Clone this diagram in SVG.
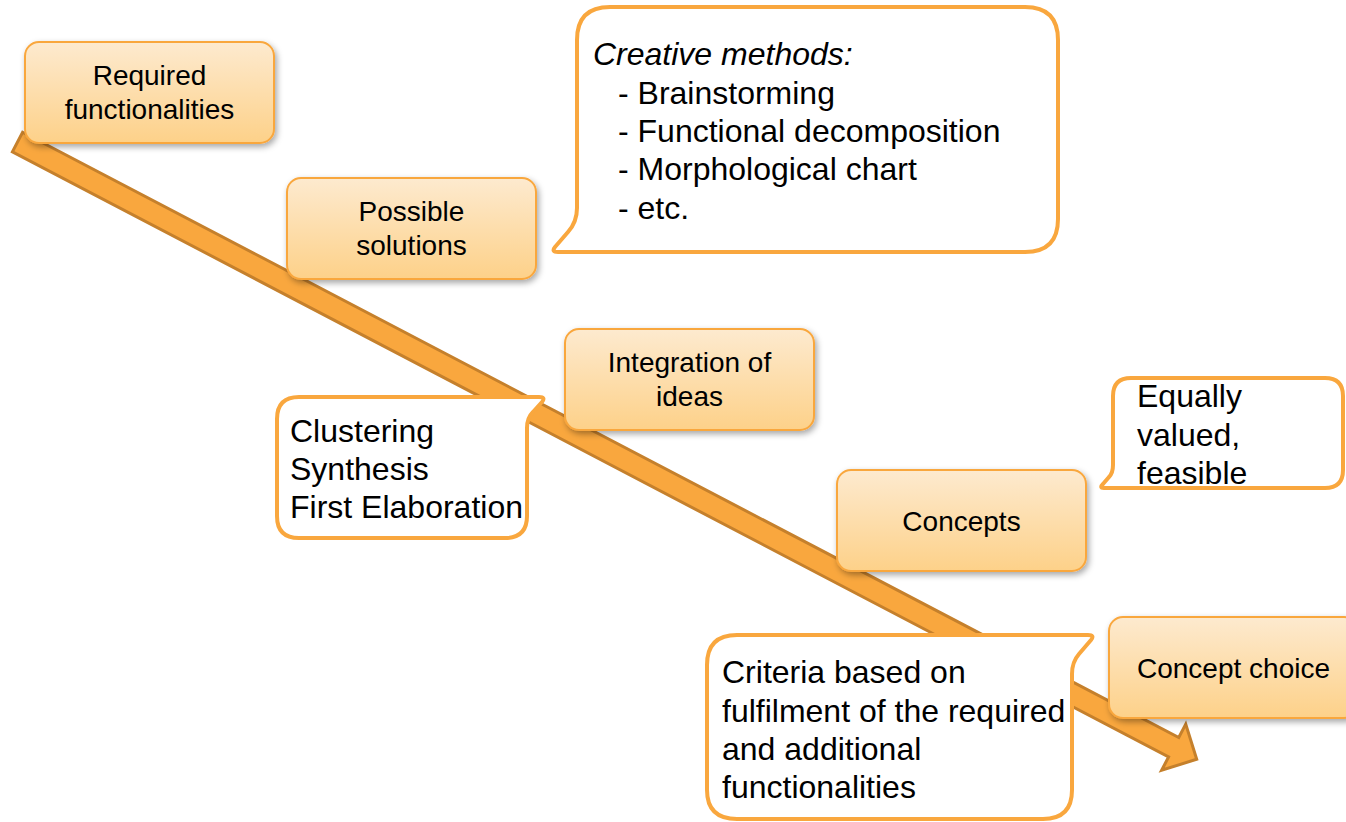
<svg xmlns="http://www.w3.org/2000/svg" width="1346" height="822" viewBox="0 0 1346 822">
<defs>
<linearGradient id="ng" x1="0" y1="0" x2="0" y2="1">
<stop offset="0" stop-color="#fdeacf"/>
<stop offset="1" stop-color="#fdd189"/>
</linearGradient>
<filter id="sh" x="-10%" y="-10%" width="130%" height="140%">
<feDropShadow dx="2" dy="3" stdDeviation="3" flood-color="#000" flood-opacity="0.35"/>
</filter>
<style>
.node{fill:url(#ng);stroke:#f9a73e;stroke-width:2;filter:url(#sh)}
.nt{font-family:"Liberation Sans",Arial,sans-serif;font-size:28px;fill:#000;text-anchor:middle}
.co{fill:#fff;stroke:#f9a73e;stroke-width:4;stroke-linejoin:round}
.ct{font-family:"Liberation Sans",Arial,sans-serif;font-size:32px;fill:#000}
.arrow{fill:#f9a73e;stroke:#c5802c;stroke-width:3;stroke-linejoin:miter}
</style>
</defs>
<rect width="1346" height="822" fill="#fff"/>
<g id="connectors">
<polygon class="arrow" transform="translate(17.5,142) rotate(27.63)" points="0,-11 1305,-11 1305,-26 1331,0 1305,26 1305,11 0,11"/>
</g>
<g id="n-required">
<rect class="node" x="25" y="42" width="249" height="101" rx="14"/>
<text class="nt" x="149.5" y="85">Required</text>
<text class="nt" x="149.5" y="119">functionalities</text>
</g>
<g id="n-possible">
<rect class="node" x="287" y="178" width="249" height="101" rx="14"/>
<text class="nt" x="411.5" y="221">Possible</text>
<text class="nt" x="411.5" y="255">solutions</text>
</g>
<g id="n-integration">
<rect class="node" x="565" y="329" width="249" height="101" rx="14"/>
<text class="nt" x="689.5" y="372">Integration of</text>
<text class="nt" x="689.5" y="406">ideas</text>
</g>
<g id="n-concepts">
<rect class="node" x="837" y="470" width="249" height="101" rx="14"/>
<text class="nt" x="961.5" y="531">Concepts</text>
</g>
<g id="n-choice">
<rect class="node" x="1109" y="617" width="249" height="101" rx="14"/>
<text class="nt" x="1233.5" y="678">Concept choice</text>
</g>
<g id="c-creative">
<path class="co" d="M610 7 H1025 Q1058 7 1058 40 V219 Q1058 252 1025 252 H558 Q551 252 555 247 L568 232 Q577 222 577 208 V40 Q577 7 610 7 Z"/>
<text class="ct" x="593" y="65" font-style="italic">Creative methods:</text>
<text class="ct" x="618" y="103.5">- Brainstorming</text>
<text class="ct" x="618" y="142">- Functional decomposition</text>
<text class="ct" x="618" y="180">- Morphological chart</text>
<text class="ct" x="618" y="218.5">- etc.</text>
</g>
<g id="c-clustering">
<path class="co" d="M299 397 H539 Q546 397 542 402 L533 412 Q527 418 527 428 V516 Q527 538 505 538 H299 Q277 538 277 516 V419 Q277 397 299 397 Z"/>
<text class="ct" x="290" y="442">Clustering</text>
<text class="ct" x="290" y="480">Synthesis</text>
<text class="ct" x="290" y="518">First Elaboration</text>
</g>
<g id="c-equally">
<path class="co" d="M1131 378 H1325 Q1343 378 1343 396 V470 Q1343 488 1325 488 H1104 Q1099 488 1103 484 L1109 477 Q1113 473 1113 465 V396 Q1113 378 1131 378 Z"/>
<text class="ct" x="1137" y="407">Equally</text>
<text class="ct" x="1137" y="445.5">valued,</text>
<text class="ct" x="1137" y="484">feasible</text>
</g>
<g id="c-criteria">
<path class="co" d="M737 635 H1088 Q1095 635 1091 640 L1079 654 Q1072 662 1072 674 V790 Q1072 819 1043 819 H737 Q707 819 707 790 V665 Q707 635 737 635 Z"/>
<text class="ct" x="722" y="683">Criteria based on</text>
<text class="ct" x="722" y="722">fulfilment of the required</text>
<text class="ct" x="722" y="760">and additional</text>
<text class="ct" x="722" y="798">functionalities</text>
</g>
</svg>
